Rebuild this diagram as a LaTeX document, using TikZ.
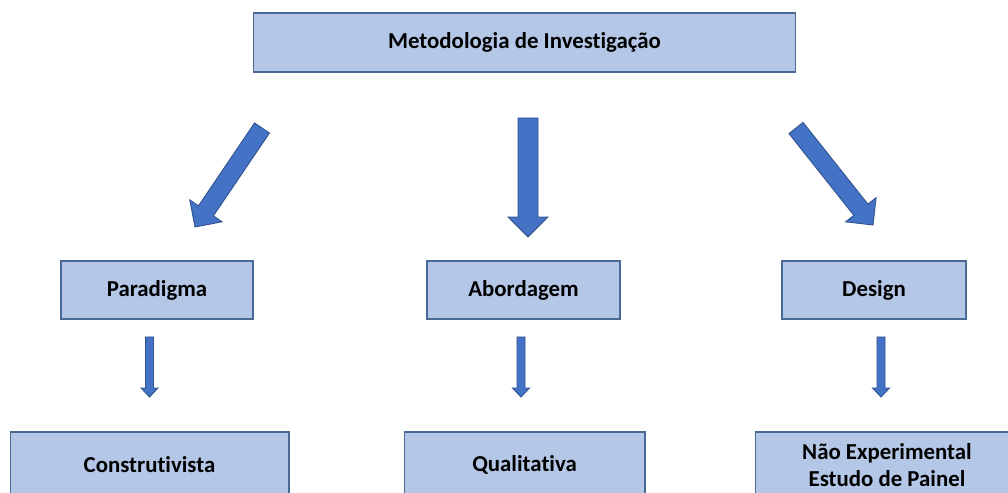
\documentclass[tikz,border=0pt]{standalone}
\usepackage{fontspec}
\setmainfont{Carlito}[Ligatures=NoCommon]
\usetikzlibrary{calc}
\definecolor{boxfill}{HTML}{B4C7E7}
\definecolor{boxline}{HTML}{4A6A96}
\definecolor{arrowfill}{HTML}{4472C4}
\definecolor{arrowline}{HTML}{2F528F}
\tikzset{
  box/.style={draw=boxline,fill=boxfill,line width=0.6pt,align=center,
    font=\fontsize{13}{15}\selectfont\bfseries,inner sep=0pt},
  arrowbody/.style={fill=arrowfill,draw=arrowline,line width=0.5pt,line join=miter}
}
% #1 tail, #2 tip, #3 half shaft, #4 half head, #5 head length
\newcommand{\blockarrow}[5]{%
  \coordinate (hb) at ($(#2)!#5!(#1)$);
  \filldraw[arrowbody] ($(#1)!#3!90:(#2)$) -- ($(hb)!#3!90:(#2)$) -- ($(hb)!#4!90:(#2)$)
    -- (#2) -- ($(hb)!#4!-90:(#2)$) -- ($(hb)!#3!-90:(#2)$) -- ($(#1)!#3!-90:(#2)$) -- cycle;
}

\begin{document}
\begin{tikzpicture}[x=0.02cm,y=-0.02cm]
\useasboundingbox (0,0) rectangle (1008,493);
\clip (0,0) rectangle (1008,493);
\node[box,minimum width=10.86cm,minimum height=1.18cm] (metodo) at (524.5,42.5) {Metodologia de Investigação};
\node[box,minimum width=3.84cm,minimum height=1.16cm] (paradigma) at (157,290) {Paradigma};
\node[box,minimum width=3.86cm,minimum height=1.16cm] (abordagem) at (523.5,290) {Abordagem};
\node[box,minimum width=3.68cm,minimum height=1.16cm] (design) at (874,290) {Design};
\node[box,minimum width=5.58cm,minimum height=1.32cm] (constr) at (149.5,465) {Construtivista};
\node[box,minimum width=4.82cm,minimum height=1.32cm] (quali) at (524.5,465) {Qualitativa};
\node[box,minimum width=5.28cm,minimum height=1.32cm] (naoexp) at (887,465) {Não Experimental\\Estudo de Painel};
% big arrows
\coordinate (aL) at (262,128); \coordinate (bL) at (195,227);
\coordinate (aM) at (528,118); \coordinate (bM) at (528,237);
\coordinate (aR) at (796,128); \coordinate (bR) at (873,225);
\blockarrow{aL}{bL}{0.18cm}{0.39cm}{0.39cm}
\blockarrow{aM}{bM}{0.2cm}{0.4cm}{0.4cm}
\blockarrow{aR}{bR}{0.18cm}{0.39cm}{0.39cm}
% small arrows
\coordinate (sP) at (149.5,337); \coordinate (tP) at (149.5,397);
\coordinate (sA) at (521,337); \coordinate (tA) at (521,397);
\coordinate (sD) at (881,337); \coordinate (tD) at (881,397);
\blockarrow{sP}{tP}{0.08cm}{0.17cm}{0.18cm}
\blockarrow{sA}{tA}{0.08cm}{0.17cm}{0.18cm}
\blockarrow{sD}{tD}{0.08cm}{0.17cm}{0.18cm}
\end{tikzpicture}
\end{document}
